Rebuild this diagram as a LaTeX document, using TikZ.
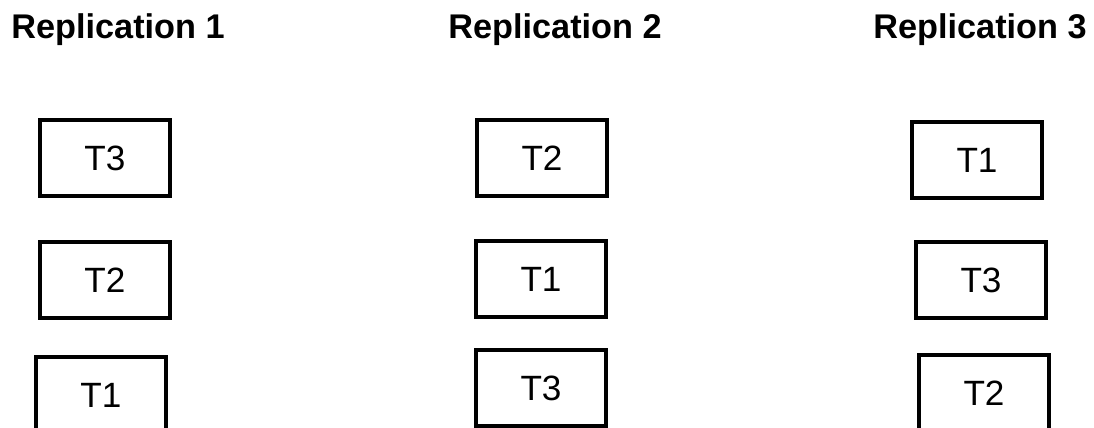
\documentclass[tikz,border=0pt]{standalone}
\usepackage{fontspec}
\setmainfont{Liberation Sans}
\begin{document}
\begin{tikzpicture}[x=0.02cm,y=-0.02cm,
    tbox/.style={draw,line width=2.6pt,minimum width=2.6cm,minimum height=1.52cm,
                 inner sep=0pt,font=\fontsize{20}{23}\selectfont},
    rephead/.style={font=\bfseries\fontsize{19.5}{23}\selectfont}]
\useasboundingbox (0,0) rectangle (1094,428);
\clip (0,0) rectangle (1094,428);

\node [rephead] (rep1) at ( 118, 30) {Replication 1};
\node [rephead] (rep2) at ( 555, 30) {Replication 2};
\node [rephead] (rep3) at ( 980, 30) {Replication 3};

\node [tbox] (t13) at ( 105,158) {T3};
\node [tbox] (t12) at ( 105,280) {T2};
\node [tbox] (t11) at ( 101,395) {T1};

\node [tbox] (t22) at ( 542,158) {T2};
\node [tbox] (t21) at ( 541,279) {T1};
\node [tbox] (t23) at ( 541,388) {T3};

\node [tbox] (t31) at ( 977,160) {T1};
\node [tbox] (t33) at ( 981,280) {T3};
\node [tbox] (t32) at ( 984,393) {T2};
\end{tikzpicture}
\end{document}
